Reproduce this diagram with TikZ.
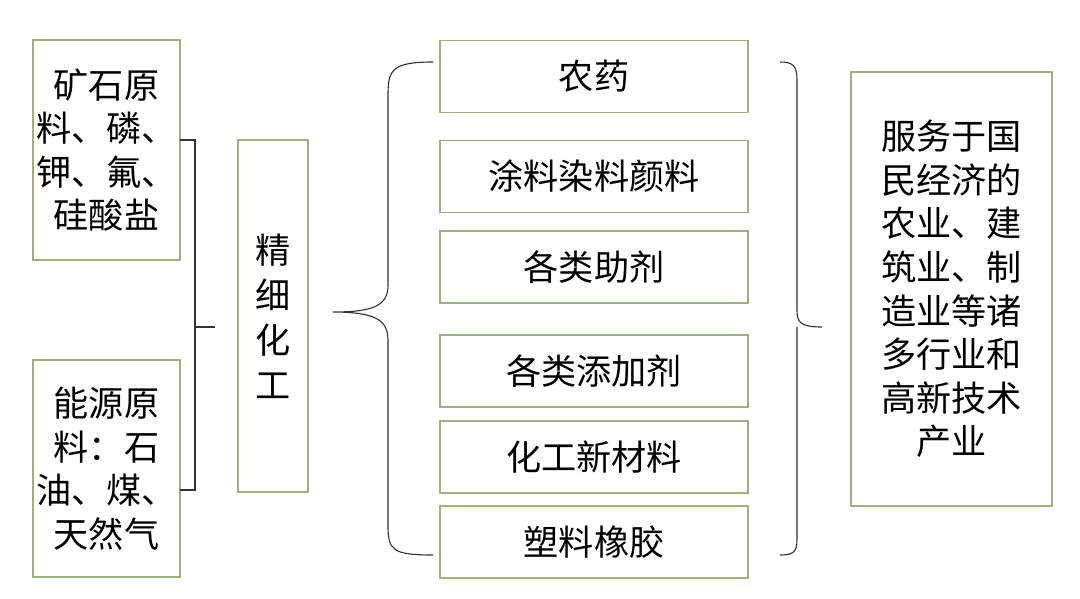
\documentclass[tikz,border=0pt]{standalone}
\usepackage{fontspec}
\setmainfont{Noto Sans CJK SC}
\usetikzlibrary{positioning}
\definecolor{boxline}{RGB}{160,175,130}
\tikzset{
  box/.style={draw=boxline,line width=0.8pt,inner sep=0pt,align=center,font=\fontsize{25}{31}\selectfont},
  brace/.style={draw=black!80,line width=0.8pt}
}
\begin{document}
\begin{tikzpicture}[x=0.025cm,y=-0.025cm]
\useasboundingbox (0,0) rectangle (1080,599);
% left sources
\node[box,minimum width=147*0.025cm,minimum height=220*0.025cm] (ore) at (106.5,150) {矿石原\\料、磷、\\钾、氟、\\硅酸盐};
\node[box,minimum width=147*0.025cm,minimum height=217*0.025cm] (energy) at (106.5,468.5) {能源原\\料：石\\油、煤、\\天然气};
% middle
\node[box,minimum width=70*0.025cm,minimum height=352*0.025cm,font=\fontsize{25}{32}\selectfont] (fine) at (273,316) {精\\细\\化\\工};
% products
\foreach \name/\y/\txt in {p1/76.5/农药, p2/176.5/涂料染料颜料, p3/267/各类助剂, p4/371/各类添加剂, p5/457/化工新材料, p6/542/塑料橡胶}
  \node[box,minimum width=308*0.025cm,minimum height=72*0.025cm] (\name) at (594,\y) {\txt};
% target
\node[box,minimum width=201*0.025cm,minimum height=434*0.025cm] (serve) at (951.5,289) {服务于国\\民经济的\\农业、建\\筑业、制\\造业等诸\\多行业和\\高新技术\\产业};
% left bracket
\draw[brace] (180,140) -- (195,140) -- (195,490) -- (180,490);
\draw[brace] (195,327) -- (215,327);
% middle brace
\draw[brace] (433,62) .. controls (392,62) and (388,70) .. (388,95) -- (388,285)
  .. controls (388,305) and (375,312) .. (333,312)
  .. controls (375,312) and (388,320) .. (388,340) -- (388,525)
  .. controls (388,550) and (392,555) .. (433,555);
% right brace
\draw[brace] (780,62) .. controls (793,62) and (797,66) .. (797,80) -- (797,310)
  .. controls (797,322) and (800,327) .. (822,327);
\draw[brace] (797,327) -- (797,540) .. controls (797,552) and (793,555) .. (780,555);
\end{tikzpicture}
\end{document}
